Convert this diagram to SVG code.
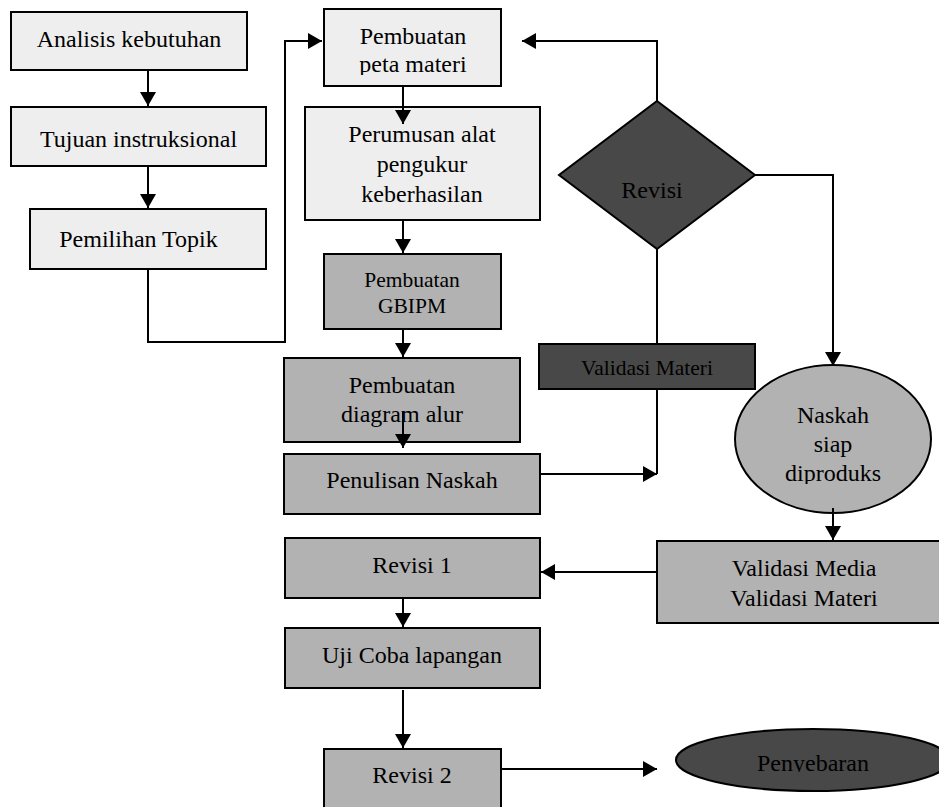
<svg xmlns="http://www.w3.org/2000/svg" width="939" height="807" viewBox="0 0 939 807">
<style>
.l{fill:#eeeeee;stroke:#000;stroke-width:2}
.m{fill:#b2b2b2;stroke:#000;stroke-width:2}
.d{fill:#484848;stroke:#000;stroke-width:2}
.t text{fill:#000;text-anchor:middle}
.s{font-size:21.5px}
.c{fill:none;stroke:#000;stroke-width:2}
</style>
<defs>
<marker id="a" markerUnits="userSpaceOnUse" markerWidth="16" markerHeight="16" refX="14" refY="8" orient="auto">
<path d="M0,0 L14,8 L0,16 z" fill="#000"/>
</marker>
<clipPath id="cp1"><rect x="324" y="0" width="180" height="75"/></clipPath>
<clipPath id="cp2"><rect x="700" y="360" width="240" height="124"/></clipPath>
<clipPath id="cp3"><rect x="650" y="720" width="300" height="52"/></clipPath>
</defs>
<rect width="939" height="807" fill="#fff"/>
<g class="t" font-family="'Liberation Serif', serif" font-size="24">
<g id="analisis"><rect class="l" x="11" y="12" width="236" height="58"/><text x="129" y="47">Analisis kebutuhan</text></g>
<g id="tujuan"><rect class="l" x="11" y="107" width="255" height="59"/><text x="138.5" y="147">Tujuan instruksional</text></g>
<g id="pemilihan"><rect class="l" x="30" y="209" width="236" height="60"/><text x="138.5" y="247">Pemilihan Topik</text></g>
<g id="peta"><rect class="l" x="324" y="9" width="177" height="77"/><g clip-path="url(#cp1)"><text x="413" y="44">Pembuatan</text><text x="413" y="72">peta materi</text></g></g>
<g id="perumusan"><rect class="l" x="305" y="107" width="235" height="113"/><text x="422" y="142">Perumusan alat</text><text x="422" y="172">pengukur</text><text x="422" y="202">keberhasilan</text></g>
<g id="gbipm"><rect class="m" x="324" y="254" width="177" height="75"/><text class="s" x="412" y="287">Pembuatan</text><text class="s" x="412" y="313">GBIPM</text></g>
<g id="diagram"><rect class="m" x="284" y="358" width="236" height="84"/><text x="402" y="393">Pembuatan</text><text x="402" y="422">diagram alur</text></g>
<g id="penulisan"><rect class="m" x="284" y="454" width="256" height="60"/><text x="412" y="488">Penulisan Naskah</text></g>
<g id="revisi"><polygon class="d" points="657,101 755,175 657,249 559,175"/><text x="652" y="198">Revisi</text></g>
<g id="validasi-materi"><rect class="d" x="539" y="344" width="216" height="45"/><text class="s" x="647" y="375">Validasi Materi</text></g>
<g id="naskah"><ellipse class="m" cx="833" cy="439" rx="98" ry="74"/><g clip-path="url(#cp2)"><text x="833" y="423">Naskah</text><text x="833" y="452">siap</text><text x="833" y="481">diproduks</text></g></g>
<g id="validasi"><rect class="m" x="657" y="541" width="290" height="82"/><text x="804" y="576">Validasi Media</text><text x="804" y="606">Validasi Materi</text></g>
<g id="revisi1"><rect class="m" x="285" y="538" width="255" height="60"/><text x="412" y="573">Revisi 1</text></g>
<g id="ujicoba"><rect class="m" x="285" y="628" width="255" height="60"/><text x="412" y="663">Uji Coba lapangan</text></g>
<g id="revisi2"><rect class="m" x="324" y="749" width="177" height="70"/><text x="412" y="783">Revisi 2</text></g>
<g id="penyebaran"><ellipse class="d" cx="813" cy="760" rx="137" ry="31"/><g clip-path="url(#cp3)"><text x="813" y="771">Penyebaran</text></g></g>
</g>
<g id="connectors">
<path class="c" d="M148,70 V106" marker-end="url(#a)"/>
<path class="c" d="M148,166 V208" marker-end="url(#a)"/>
<path class="c" d="M148,269 V342 H285 V41 H322" marker-end="url(#a)"/>
<path class="c" d="M403,86 V124" marker-end="url(#a)"/>
<path class="c" d="M403,220 V253" marker-end="url(#a)"/>
<path class="c" d="M403,329 V357" marker-end="url(#a)"/>
<path class="c" d="M403,412 V448" marker-end="url(#a)"/>
<path class="c" d="M540,474 H657" marker-end="url(#a)"/>
<path class="c" d="M657,389 V474"/>
<path class="c" d="M657,101 V41 H522" marker-end="url(#a)"/>
<path class="c" d="M657,249 V344"/>
<path class="c" d="M755,175 H833 V366" marker-end="url(#a)"/>
<path class="c" d="M833,508 V540" marker-end="url(#a)"/>
<path class="c" d="M657,572 H541" marker-end="url(#a)"/>
<path class="c" d="M403,598 V627" marker-end="url(#a)"/>
<path class="c" d="M403,690 V748" marker-end="url(#a)"/>
<path class="c" d="M501,769 H657" marker-end="url(#a)"/>
</g>
</svg>
